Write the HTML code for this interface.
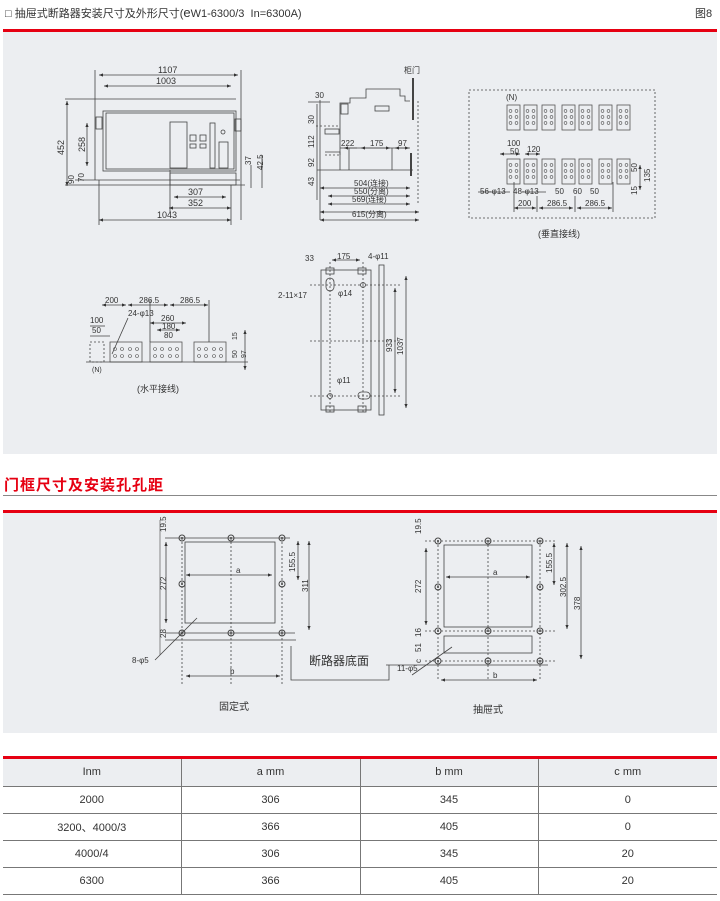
<!DOCTYPE html>
<html><head><meta charset="utf-8"><style>
html,body{margin:0;padding:0;background:#fff;width:720px;height:901px;overflow:hidden;font-family:"Liberation Sans","Noto Sans CJK SC",sans-serif;}
.abs{position:absolute;}
svg text{font-family:"Liberation Sans","Noto Sans CJK SC",sans-serif;fill:#333;}
table{border-collapse:collapse;table-layout:fixed;}
td{padding:0;}
</style></head><body>
<div class="abs" style="left:5px;top:5px;font-size:11px;color:#333;">□ 抽屉式断路器安装尺寸及外形尺寸(<span style="font-size:13px">e</span>W1-6300/3&nbsp; In=6300A)</div>
<div class="abs" style="left:695px;top:5px;font-size:11px;color:#333;">图8</div>
<div class="abs" style="left:3px;top:29px;width:714px;height:3px;background:#e60012;"></div>
<div class="abs" style="left:3px;top:32px;width:714px;height:422px;background:#eceef1;"></div>
<div class="abs" style="left:4px;top:474px;font-size:15px;font-weight:bold;color:#e60012;letter-spacing:1px;">门框尺寸及安装孔孔距</div>
<div class="abs" style="left:3px;top:495px;width:714px;height:1px;background:#888;"></div>
<div class="abs" style="left:3px;top:510px;width:714px;height:3px;background:#e60012;"></div>
<div class="abs" style="left:3px;top:513px;width:714px;height:220px;background:#eceef1;"></div>

<svg class="abs" style="left:0;top:0" width="720" height="740" viewBox="0 0 720 740">
<defs>
<marker id="a" markerWidth="6" markerHeight="6" refX="5" refY="3" orient="auto-start-reverse"><path d="M0,1 L5,3 L0,5z" fill="#333"/></marker>
<g id="tb"><rect x="0" y="0" width="13" height="25" fill="none" stroke="#555" stroke-width="0.8"/><circle cx="3.5" cy="6" r="1.4" fill="none" stroke="#555" stroke-width=".6"/><circle cx="9.5" cy="6" r="1.4" fill="none" stroke="#555" stroke-width=".6"/><circle cx="3.5" cy="12" r="1.4" fill="none" stroke="#555" stroke-width=".6"/><circle cx="9.5" cy="12" r="1.4" fill="none" stroke="#555" stroke-width=".6"/><circle cx="3.5" cy="18" r="1.4" fill="none" stroke="#555" stroke-width=".6"/><circle cx="9.5" cy="18" r="1.4" fill="none" stroke="#555" stroke-width=".6"/></g>
<g id="hb"><rect x="0" y="0" width="32" height="20" fill="none" stroke="#555" stroke-width="0.8"/><circle cx="5" cy="7" r="1.5" fill="none" stroke="#555" stroke-width=".6"/><circle cx="12" cy="7" r="1.5" fill="none" stroke="#555" stroke-width=".6"/><circle cx="20" cy="7" r="1.5" fill="none" stroke="#555" stroke-width=".6"/><circle cx="27" cy="7" r="1.5" fill="none" stroke="#555" stroke-width=".6"/><circle cx="5" cy="14" r="1.5" fill="none" stroke="#555" stroke-width=".6"/><circle cx="12" cy="14" r="1.5" fill="none" stroke="#555" stroke-width=".6"/><circle cx="20" cy="14" r="1.5" fill="none" stroke="#555" stroke-width=".6"/><circle cx="27" cy="14" r="1.5" fill="none" stroke="#555" stroke-width=".6"/></g>
<g id="hole"><circle r="3" fill="none" stroke="#444" stroke-width="1"/><circle r="1" fill="#444"/></g>
</defs>
<g stroke="#444" stroke-width="0.8" fill="none">
<line x1="99" y1="75" x2="238" y2="75" marker-start="url(#a)" marker-end="url(#a)"/>
<line x1="104" y1="86" x2="231" y2="86" marker-start="url(#a)" marker-end="url(#a)"/>
<line x1="95" y1="70" x2="95" y2="180"/><line x1="241" y1="70" x2="241" y2="220"/>
<line x1="65" y1="99" x2="236" y2="99"/>
<line x1="67" y1="101" x2="67" y2="186" marker-start="url(#a)" marker-end="url(#a)"/>
<line x1="87" y1="123" x2="87" y2="166" marker-start="url(#a)" marker-end="url(#a)"/>
<rect x="103" y="111" width="133" height="60"/>
<rect x="106" y="113" width="128" height="56"/>
<rect x="96" y="117" width="6" height="12"/><rect x="235" y="119" width="6" height="12"/>
<rect x="170" y="122" width="17" height="46"/>
<rect x="190" y="135" width="6" height="6"/><rect x="200" y="135" width="6" height="6"/>
<rect x="190" y="144" width="6" height="4"/><rect x="200" y="144" width="6" height="4"/>
<rect x="210" y="123" width="5" height="45"/><circle cx="223" cy="132" r="2"/>
<rect x="219" y="142" width="9" height="26"/>
<rect x="170" y="173" width="66" height="12"/>
<line x1="65" y1="185" x2="245" y2="185"/><line x1="75" y1="180" x2="240" y2="180"/>
<line x1="170" y1="170" x2="170" y2="212"/><line x1="231" y1="185" x2="231" y2="225"/>
<line x1="174" y1="197" x2="226" y2="197" marker-start="url(#a)" marker-end="url(#a)"/>
<line x1="169" y1="208" x2="231" y2="208" marker-start="url(#a)" marker-end="url(#a)"/>
<line x1="99" y1="220" x2="231" y2="220" marker-start="url(#a)" marker-end="url(#a)"/>
<line x1="99" y1="180" x2="99" y2="225"/>
<line x1="251" y1="165" x2="251" y2="188"/><line x1="262" y1="155" x2="262" y2="188"/>
<polyline points="340,170 340,103 350,103 350,98 366,98 366,89 400,89 400,96 405,96 405,101 410,101"/>
<rect x="341" y="104" width="7" height="10"/><rect x="375" y="106" width="14" height="5"/>
<line x1="413" y1="78" x2="413" y2="120" stroke-width="2"/>
<line x1="411" y1="153" x2="411" y2="176" stroke-width="2"/>
<line x1="418" y1="101" x2="418" y2="205" stroke-dasharray="2,2"/>
<line x1="317" y1="170" x2="413" y2="170"/>
<polyline points="316,126 340,126" stroke-dasharray="2,2"/><rect x="325" y="129" width="14" height="5"/>
<polyline points="325,152 340,152 340,155" />
<line x1="325" y1="155" x2="340" y2="155" stroke-dasharray="2,2"/>
<line x1="340" y1="148" x2="410" y2="148"/>
<line x1="349" y1="148" x2="349" y2="170"/><line x1="392" y1="148" x2="392" y2="170"/>
<line x1="344" y1="148" x2="357" y2="148" marker-start="url(#a)"/>
<line x1="361" y1="148" x2="390" y2="148" marker-start="url(#a)" marker-end="url(#a)"/>
<line x1="395" y1="148" x2="409" y2="148" marker-start="url(#a)" marker-end="url(#a)"/>
<line x1="317" y1="104" x2="317" y2="200"/><line x1="320" y1="100" x2="320" y2="220"/>
<line x1="320" y1="188" x2="410" y2="188" marker-start="url(#a)" marker-end="url(#a)"/>
<line x1="328" y1="196" x2="410" y2="196" marker-start="url(#a)" marker-end="url(#a)"/>
<line x1="328" y1="204" x2="410" y2="204" marker-start="url(#a)" marker-end="url(#a)"/>
<line x1="320" y1="212" x2="419" y2="212" marker-start="url(#a)" marker-end="url(#a)"/>
<line x1="320" y1="220" x2="419" y2="220" marker-start="url(#a)" marker-end="url(#a)"/>
<line x1="308" y1="102" x2="330" y2="102"/>
<rect x="469" y="90" width="186" height="128" stroke-dasharray="2,2"/>
<use href="#tb" x="507" y="105"/><use href="#tb" x="524" y="105"/><use href="#tb" x="542" y="105"/><use href="#tb" x="562" y="105"/><use href="#tb" x="579" y="105"/><use href="#tb" x="599" y="105"/><use href="#tb" x="617" y="105"/>
<use href="#tb" x="507" y="159"/><use href="#tb" x="524" y="159"/><use href="#tb" x="542" y="159"/><use href="#tb" x="562" y="159"/><use href="#tb" x="579" y="159"/><use href="#tb" x="599" y="159"/><use href="#tb" x="617" y="159"/>
<line x1="500" y1="154" x2="520" y2="154" marker-start="url(#a)" marker-end="url(#a)"/>
<line x1="525" y1="154" x2="540" y2="154" marker-start="url(#a)" marker-end="url(#a)"/>
<line x1="514" y1="208" x2="536" y2="208" marker-start="url(#a)" marker-end="url(#a)"/>
<line x1="539" y1="208" x2="573" y2="208" marker-start="url(#a)" marker-end="url(#a)"/>
<line x1="577" y1="208" x2="612" y2="208" marker-start="url(#a)" marker-end="url(#a)"/>
<line x1="514" y1="182" x2="514" y2="212"/><line x1="537" y1="196" x2="537" y2="212"/><line x1="575" y1="196" x2="575" y2="212"/><line x1="613" y1="182" x2="613" y2="212"/>
<line x1="478" y1="192" x2="510" y2="192"/><line x1="522" y1="192" x2="546" y2="192"/>
<line x1="640" y1="165" x2="640" y2="190" marker-start="url(#a)" marker-end="url(#a)"/>
<use href="#hb" x="110" y="342"/><use href="#hb" x="150" y="342"/><use href="#hb" x="194" y="342"/>
<rect x="90" y="342" width="14" height="20" stroke-dasharray="2,2"/>
<line x1="86" y1="362" x2="248" y2="362"/>
<line x1="102" y1="305" x2="126" y2="305" marker-start="url(#a)" marker-end="url(#a)"/>
<line x1="128" y1="305" x2="168" y2="305" marker-start="url(#a)" marker-end="url(#a)"/>
<line x1="170" y1="305" x2="208" y2="305" marker-start="url(#a)" marker-end="url(#a)"/>
<line x1="150" y1="300" x2="150" y2="342"/><line x1="209" y1="300" x2="209" y2="342"/>
<line x1="150" y1="323" x2="186" y2="323" marker-start="url(#a)" marker-end="url(#a)"/>
<line x1="157" y1="330" x2="180" y2="330" marker-start="url(#a)" marker-end="url(#a)"/>
<line x1="90" y1="326" x2="105" y2="326"/><line x1="90" y1="336" x2="110" y2="336"/>
<line x1="128" y1="318" x2="112" y2="354"/>
<line x1="245" y1="330" x2="245" y2="370" marker-start="url(#a)" marker-end="url(#a)"/>
<rect x="321" y="270" width="50" height="140"/>
<rect x="379" y="265" width="5" height="150"/>
<line x1="330" y1="262" x2="330" y2="412" stroke-dasharray="2,2"/><line x1="363" y1="262" x2="363" y2="412" stroke-dasharray="2,2"/>
<line x1="310" y1="285" x2="400" y2="285" stroke-dasharray="2,2"/><line x1="310" y1="341" x2="400" y2="341" stroke-dasharray="2,2"/><line x1="310" y1="396" x2="400" y2="396" stroke-dasharray="2,2"/>
<rect x="326" y="278" width="8" height="13" rx="4"/><rect x="358" y="392" width="12" height="7" rx="3.5"/>
<circle cx="363" cy="285" r="2.5"/><circle cx="330" cy="396" r="2.5"/>
<rect x="326" y="268" width="8" height="6"/><rect x="358" y="268" width="8" height="6"/><rect x="326" y="406" width="8" height="6"/><rect x="358" y="406" width="8" height="6"/>
<line x1="332" y1="260" x2="360" y2="260" marker-start="url(#a)" marker-end="url(#a)"/>
<line x1="395" y1="288" x2="395" y2="393" marker-start="url(#a)" marker-end="url(#a)"/>
<line x1="406" y1="276" x2="406" y2="408" marker-start="url(#a)" marker-end="url(#a)"/>
<line x1="160" y1="520" x2="160" y2="655" stroke-width=".6"/>
<rect x="185" y="542" width="90" height="81"/>
<line x1="182" y1="538" x2="182" y2="685" stroke-dasharray="2,2"/><line x1="231" y1="538" x2="231" y2="685" stroke-dasharray="2,2"/><line x1="282" y1="538" x2="282" y2="685" stroke-dasharray="2,2"/>
<line x1="165" y1="538" x2="290" y2="538"/><line x1="165" y1="633" x2="295" y2="633"/><line x1="165" y1="640" x2="296" y2="640"/>
<line x1="186" y1="575" x2="272" y2="575" marker-start="url(#a)" marker-end="url(#a)"/>
<line x1="186" y1="676" x2="280" y2="676" marker-start="url(#a)" marker-end="url(#a)"/>
<line x1="166" y1="542" x2="166" y2="623" marker-start="url(#a)" marker-end="url(#a)"/>
<line x1="298" y1="541" x2="298" y2="580" marker-start="url(#a)" marker-end="url(#a)"/>
<line x1="309" y1="541" x2="309" y2="630" marker-start="url(#a)" marker-end="url(#a)"/>
<line x1="155" y1="660" x2="197" y2="618"/>
<polyline points="291,646 291,680 389,680 389,665" />
<rect x="444" y="545" width="88" height="82"/><rect x="444" y="636" width="88" height="17"/>
<line x1="425" y1="541" x2="555" y2="541" stroke-dasharray="2,2"/><line x1="425" y1="631" x2="555" y2="631" stroke-dasharray="2,2"/><line x1="425" y1="661" x2="555" y2="661" stroke-dasharray="2,2"/>
<line x1="438" y1="541" x2="438" y2="680" stroke-dasharray="2,2"/><line x1="488" y1="541" x2="488" y2="680" stroke-dasharray="2,2"/><line x1="540" y1="541" x2="540" y2="680" stroke-dasharray="2,2"/>
<line x1="386" y1="665" x2="548" y2="665"/>
<line x1="446" y1="577" x2="530" y2="577" marker-start="url(#a)" marker-end="url(#a)"/>
<line x1="441" y1="680" x2="537" y2="680" marker-start="url(#a)" marker-end="url(#a)"/>
<line x1="426" y1="548" x2="426" y2="625" marker-start="url(#a)" marker-end="url(#a)"/>
<line x1="554" y1="543" x2="554" y2="585" marker-start="url(#a)" marker-end="url(#a)"/>
<line x1="567" y1="543" x2="567" y2="629" marker-start="url(#a)" marker-end="url(#a)"/>
<line x1="581" y1="546" x2="581" y2="659" marker-start="url(#a)" marker-end="url(#a)"/>
<line x1="412" y1="675" x2="452" y2="647"/>
</g>
<g>
<use href="#hole" x="182" y="538"/><use href="#hole" x="231" y="538"/><use href="#hole" x="282" y="538"/>
<use href="#hole" x="182" y="584"/><use href="#hole" x="282" y="584"/>
<use href="#hole" x="182" y="633"/><use href="#hole" x="231" y="633"/><use href="#hole" x="282" y="633"/>
<use href="#hole" x="438" y="541"/><use href="#hole" x="488" y="541"/><use href="#hole" x="540" y="541"/>
<use href="#hole" x="438" y="587"/><use href="#hole" x="540" y="587"/>
<use href="#hole" x="438" y="631"/><use href="#hole" x="488" y="631"/><use href="#hole" x="540" y="631"/>
<use href="#hole" x="438" y="661"/><use href="#hole" x="488" y="661"/><use href="#hole" x="540" y="661"/>
</g>
<g font-size="9">
<text x="158" y="73">1107</text><text x="156" y="84">1003</text>
<text x="188" y="195">307</text><text x="188" y="206">352</text><text x="157" y="218">1043</text>
<text transform="translate(64,155) rotate(-90)">452</text><text transform="translate(85,152) rotate(-90)">258</text>
<text transform="translate(74,184) rotate(-90)" font-size="8">90</text><text transform="translate(84,182) rotate(-90)" font-size="8">70</text>
<text transform="translate(251,165) rotate(-90)" font-size="8">37</text><text transform="translate(263,170) rotate(-90)" font-size="8">42.5</text>
<text x="404" y="73" font-size="8">柜门</text><text x="315" y="98" font-size="8">30</text>
<text x="341" y="146" font-size="8">222</text><text x="370" y="146" font-size="8">175</text><text x="398" y="146" font-size="8">97</text>
<text transform="translate(314,124) rotate(-90)" font-size="8">30</text><text transform="translate(314,148) rotate(-90)" font-size="8">112</text>
<text transform="translate(314,167) rotate(-90)" font-size="8">92</text><text transform="translate(314,186) rotate(-90)" font-size="8">43</text>
<text x="354" y="186" font-size="8">504(连接)</text><text x="354" y="194" font-size="8">550(分离)</text>
<text x="352" y="202" font-size="8">569(连接)</text><text x="352" y="217" font-size="8">615(分离)</text>
<text x="506" y="100" font-size="8">(N)</text><text x="507" y="146" font-size="8">100</text><text x="510" y="154" font-size="8">50</text><text x="527" y="152" font-size="8">120</text>
<text x="480" y="194" font-size="8">56-φ13</text><text x="513" y="194" font-size="8">48-φ13</text>
<text x="555" y="194" font-size="8">50</text><text x="573" y="194" font-size="8">60</text><text x="590" y="194" font-size="8">50</text>
<text x="518" y="206" font-size="8">200</text><text x="547" y="206" font-size="8">286.5</text><text x="585" y="206" font-size="8">286.5</text>
<text transform="translate(637,172) rotate(-90)" font-size="8">50</text><text transform="translate(650,182) rotate(-90)" font-size="8">135</text><text transform="translate(637,195) rotate(-90)" font-size="8">15</text>
<text x="538" y="237">(垂直接线)</text>
<text x="105" y="303" font-size="8">200</text><text x="139" y="303" font-size="8">286.5</text><text x="180" y="303" font-size="8">286.5</text>
<text x="128" y="316" font-size="8">24-φ13</text><text x="161" y="321" font-size="8">260</text><text x="162" y="329" font-size="8">180</text><text x="164" y="338" font-size="8">80</text>
<text x="90" y="323" font-size="8">100</text><text x="92" y="333" font-size="8">50</text><text x="92" y="372" font-size="7">(N)</text>
<text transform="translate(237,340) rotate(-90)" font-size="7">15</text><text transform="translate(237,358) rotate(-90)" font-size="7">50</text><text transform="translate(246,358) rotate(-90)" font-size="7">97</text>
<text x="137" y="392">(水平接线)</text>
<text x="305" y="261" font-size="8">33</text><text x="337" y="259" font-size="8">175</text><text x="368" y="259" font-size="8">4-φ11</text>
<text x="278" y="298" font-size="8">2-11×17</text><text x="338" y="296" font-size="8">φ14</text><text x="337" y="383" font-size="8">φ11</text>
<text transform="translate(392,352) rotate(-90)" font-size="8">933</text><text transform="translate(403,355) rotate(-90)" font-size="8">1037</text>
<text transform="translate(166,532) rotate(-90)" font-size="8">19.5</text><text transform="translate(166,590) rotate(-90)" font-size="8">272</text>
<text transform="translate(166,638) rotate(-90)" font-size="8">28</text><text x="236" y="573" font-size="8">a</text><text x="230" y="674" font-size="8">b</text>
<text transform="translate(295,572) rotate(-90)" font-size="8">155.5</text><text transform="translate(308,592) rotate(-90)" font-size="8">311</text>
<text x="132" y="663" font-size="8">8-φ5</text>
<text x="309" y="665" font-size="12">断路器底面</text>
<text transform="translate(421,534) rotate(-90)" font-size="8">19.5</text><text transform="translate(421,593) rotate(-90)" font-size="8">272</text>
<text transform="translate(421,637) rotate(-90)" font-size="8">16</text><text transform="translate(421,652) rotate(-90)" font-size="8">51</text><text transform="translate(421,663) rotate(-90)" font-size="8">c</text>
<text x="493" y="575" font-size="8">a</text><text x="493" y="678" font-size="8">b</text>
<text transform="translate(552,573) rotate(-90)" font-size="8">155.5</text><text transform="translate(566,597) rotate(-90)" font-size="8">302.5</text><text transform="translate(580,610) rotate(-90)" font-size="8">378</text>
<text x="397" y="671" font-size="8">11-φ5</text>
<text x="219" y="710" font-size="10">固定式</text><text x="473" y="713" font-size="10">抽屉式</text>
</g>
</svg>

<div class="abs" style="left:3px;top:756px;width:714px;height:3px;background:#e60012;"></div>
<table class="abs" style="left:3px;top:759px;width:714px;font-size:11px;color:#333;text-align:center;">
<colgroup><col style="width:178px"><col style="width:179px"><col style="width:178px"><col style="width:179px"></colgroup>
<tr style="background:#eceef1;height:27px;"><td style="border-right:1px solid #777">Inm</td><td style="border-right:1px solid #777">a mm</td><td style="border-right:1px solid #777">b mm</td><td>c mm</td></tr>
<tr style="height:27px;border-top:1px solid #777"><td style="border-right:1px solid #777">2000</td><td style="border-right:1px solid #777">306</td><td style="border-right:1px solid #777">345</td><td>0</td></tr>
<tr style="height:27px;border-top:1px solid #777"><td style="border-right:1px solid #777">3200、4000/3</td><td style="border-right:1px solid #777">366</td><td style="border-right:1px solid #777">405</td><td>0</td></tr>
<tr style="height:27px;border-top:1px solid #777"><td style="border-right:1px solid #777">4000/4</td><td style="border-right:1px solid #777">306</td><td style="border-right:1px solid #777">345</td><td>20</td></tr>
<tr style="height:27px;border-top:1px solid #777;border-bottom:1px solid #777"><td style="border-right:1px solid #777">6300</td><td style="border-right:1px solid #777">366</td><td style="border-right:1px solid #777">405</td><td>20</td></tr>
</table>
</body></html>
